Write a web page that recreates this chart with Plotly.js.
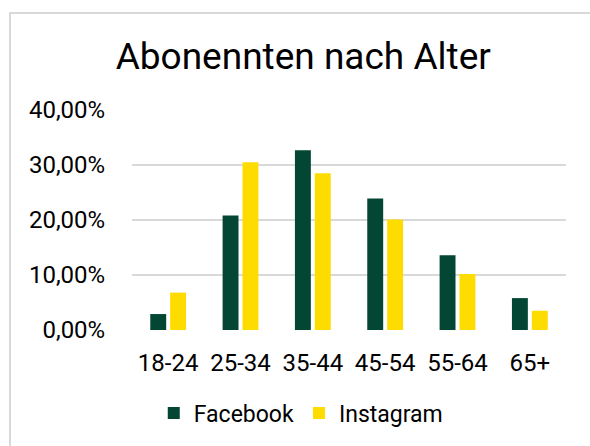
<!DOCTYPE html>
<html>
<head>
<meta charset="utf-8">
<script src="https://cdn.plot.ly/plotly-3.0.1.min.js"></script>
<style>
  body { margin: 0; background: #fff; }
  #wrap { position: relative; width: 590px; height: 446px; overflow: hidden; }
  #chart { position: absolute; left: 0; top: 0; width: 590px; height: 446px; }
  #frame { position: absolute; left: 9px; top: 12px; width: 600px; height: 460px;
           border: 2px solid #d9d9d9; pointer-events: none; }
</style>
</head>
<body>
<div id="wrap">
  <div id="chart"></div>
  <div id="frame"></div>
</div>
<script>
// age groups and share of followers per network
var ageGroups = ['18-24', '25-34', '35-44', '45-54', '55-64', '65+'];
var facebook = [0.029, 0.208, 0.327, 0.239, 0.136, 0.058];
var instagram = [0.068, 0.305, 0.285, 0.201, 0.102, 0.035];

var font = 'Roboto, "Open Sans", sans-serif';

var traceFb = {
  type: 'bar',
  name: 'Facebook',
  x: ageGroups,
  y: facebook,
  marker: { color: '#034633' },
  hoverinfo: 'x+y+name'
};

var traceIg = {
  type: 'bar',
  name: 'Instagram',
  x: ageGroups,
  y: instagram,
  marker: { color: '#FFDC00' },
  hoverinfo: 'x+y+name'
};

var layout = {
  width: 590,
  height: 446,
  margin: { l: 132, r: 24, t: 110, b: 116 },
  paper_bgcolor: 'rgba(0,0,0,0)',
  plot_bgcolor: 'rgba(0,0,0,0)',
  separators: ',.',
  font: { family: font, size: 23, color: '#000' },
  title: {
    text: 'Abonennten nach Alter',
    font: { family: font, size: 37, color: '#000' },
    x: 0.514,
    xanchor: 'center',
    y: 1 - 56 / 446,
    yanchor: 'middle'
  },
  barmode: 'group',
  bargap: 0.45,
  bargroupgap: 0.2,
  xaxis: {
    showgrid: false,
    zeroline: false,
    showline: false,
    ticks: 'outside',
    ticklen: 11,
    tickcolor: 'rgba(0,0,0,0)',
    tickfont: { size: 24 }
  },
  yaxis: {
    range: [0, 0.4],
    dtick: 0.1,
    tickformat: '.2%',
    showgrid: true,
    gridcolor: '#d9d9d9',
    gridwidth: 2,
    zeroline: false,
    showline: false,
    ticks: 'outside',
    ticklen: 21,
    tickcolor: 'rgba(0,0,0,0)',
    tickfont: { size: 24 }
  },
  showlegend: true,
  legend: {
    orientation: 'h',
    x: 0.39,
    xanchor: 'center',
    y: -0.377,
    yanchor: 'middle',
    font: { size: 23 },
    itemwidth: 30
  }
};

Plotly.newPlot('chart', [traceFb, traceIg], layout, { displayModeBar: false });
</script>
</body>
</html>
